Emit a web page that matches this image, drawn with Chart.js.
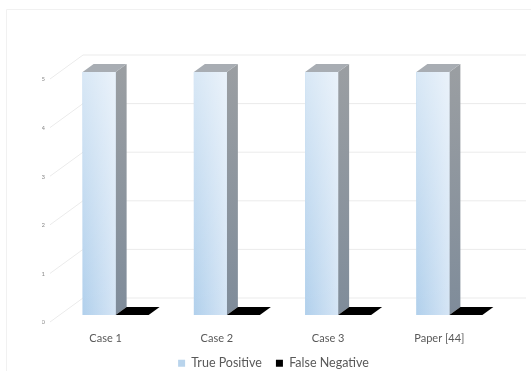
<!DOCTYPE html>
<html>
<head>
<meta charset="utf-8">
<style>
  html, body { margin: 0; padding: 0; background: #fff; }
  #wrap { width: 531px; height: 371px; }
</style>
<script src="https://cdn.jsdelivr.net/npm/chart.js@4/dist/chart.umd.min.js"></script>
</head>
<body>
<div id="wrap"><canvas id="chart"></canvas></div>
<script>
const categories = ["Case 1", "Case 2", "Case 3", "Paper [44]"]
const truePositive = [5, 5, 5, 5]
const falseNegative = [0, 0, 0, 0]
const yTicks = [0, 1, 2, 3, 4, 5]

// Fake perspective: how far each bar's back edge sits from its front edge,
// and how far the floor and walls reach either side of the bar plane
const barDepth = { x: 11, y: -8 }
const wallFront = { x: -10, y: 7 }
const wallBack = { x: 23, y: -17 }

function fillPoly(ctx, points, style) {
  ctx.fillStyle = style
  ctx.beginPath()
  points.forEach((p, i) => (i ? ctx.lineTo(p[0], p[1]) : ctx.moveTo(p[0], p[1])))
  ctx.closePath()
  ctx.fill()
}

const depthPlugin = {
  id: "depth",
  afterLayout(chart) {
    // Tick labels get clipped to the scale box, let them run into the legend's band
    chart.scales.x.bottom = chart.height
  },
  beforeDraw(chart) {
    // Faint outer frame
    const ctx = chart.ctx
    ctx.save()
    ctx.strokeStyle = "#f1f1f1"
    ctx.lineWidth = 1
    ctx.beginPath()
    ctx.moveTo(6.5, 371)
    ctx.lineTo(6.5, 9.5)
    ctx.lineTo(531, 9.5)
    ctx.stroke()
    ctx.restore()
  },
  beforeDatasetsDraw(chart) {
    // Back wall and side wall grid lines
    const ctx = chart.ctx
    const area = chart.chartArea
    const y = chart.scales.y
    ctx.save()
    ctx.strokeStyle = "#ebebeb"
    ctx.lineWidth = 1
    yTicks.forEach((tick) => {
      const py = y.getPixelForValue(tick)
      ctx.beginPath()
      ctx.moveTo(area.left + wallFront.x, py + wallFront.y)
      ctx.lineTo(area.left + wallBack.x, py + wallBack.y)
      ctx.lineTo(area.right + wallBack.x - 2, py + wallBack.y)
      ctx.stroke()
    })
    ctx.restore()
  },
  afterDatasetsDraw(chart) {
    const ctx = chart.ctx
    ctx.save()
    chart.getDatasetMeta(0).data.concat(chart.getDatasetMeta(1).data).forEach((bar) => {
      const { x, y, base, width } = bar.getProps(["x", "y", "base", "width"], true)
      const left = x - width / 2
      const right = x + width / 2
      const dx = barDepth.x
      const dy = barDepth.y

      // A zero value only shows as a flat tile on the floor
      if (Math.abs(base - y) < 1) {
        fillPoly(ctx, [[left, base], [right, base], [right + dx, base + dy], [left + dx, base + dy]], "#000000")
        return
      }

      const sideFill = ctx.createLinearGradient(0, y, 0, base)
      sideFill.addColorStop(0, "#9a9ea2")
      sideFill.addColorStop(1, "#7f8c9a")
      fillPoly(ctx, [[right, y], [right + dx, y + dy], [right + dx, base + dy], [right, base]], sideFill)
      fillPoly(ctx, [[left, y], [right, y], [right + dx, y + dy], [left + dx, y + dy]], "#a8adb3")

      const frontFill = ctx.createLinearGradient(left, 0, right, 0)
      frontFill.addColorStop(0, "#b1d0ec")
      frontFill.addColorStop(1, "#d5e5f5")
      ctx.fillStyle = frontFill
      ctx.fillRect(left, y, width, base - y)

      const sheen = ctx.createLinearGradient(0, y, 0, base)
      sheen.addColorStop(0, "rgba(255,255,255,0.5)")
      sheen.addColorStop(1, "rgba(255,255,255,0)")
      ctx.fillStyle = sheen
      ctx.fillRect(left, y, width, base - y)
    })
    ctx.restore()
  },
}

new Chart(document.getElementById("chart"), {
  type: "bar",
  plugins: [depthPlugin],
  data: {
    labels: categories,
    datasets: [
      { label: "True Positive", data: truePositive, backgroundColor: "#b9d4ec", borderWidth: 0 },
      { label: "False Negative", data: falseNegative, backgroundColor: "#000000", borderWidth: 0 },
    ],
  },
  options: {
    responsive: true,
    maintainAspectRatio: false,
    animation: false,
    categoryPercentage: 0.593,
    barPercentage: 1,
    layout: { padding: { left: 42, right: 26, top: 72, bottom: -8.5 } },
    scales: {
      y: {
        min: 0,
        max: 5,
        afterFit: (scale) => { scale.width = 18 },
        grid: { display: false, drawTicks: false },
        border: { display: false },
        ticks: {
          stepSize: 1,
          color: "#8a8a8a",
          padding: 15,
          labelOffset: 7.5,
          font: { family: "Lato", size: 6 },
        },
      },
      x: {
        afterFit: (scale) => { scale.height = 28 },
        grid: { display: false, drawTicks: false },
        border: { display: false },
        ticks: {
          color: "#595959",
          padding: 17,
          labelOffset: -10,
          maxRotation: 0,
          font: { family: "Lato", size: 11 },
        },
      },
    },
    plugins: {
      tooltip: { enabled: false },
      legend: {
        position: "bottom",
        labels: {
          boxWidth: 7,
          boxHeight: 7,
          padding: 14,
          color: "#595959",
          font: { family: "Lato", size: 12.5 },
        },
      },
    },
  },
})
</script>
</body>
</html>
